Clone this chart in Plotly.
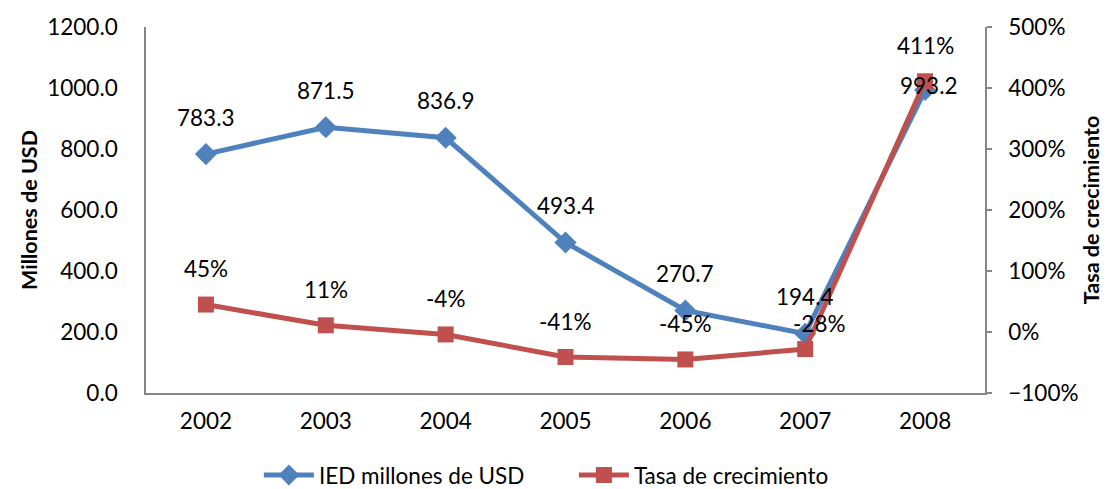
import plotly.graph_objects as go

years = [2002, 2003, 2004, 2005, 2006, 2007, 2008]
year_labels = ["2002", "2003", "2004", "2005", "2006", "2007", "2008"]
ied = [783.3, 871.5, 836.9, 493.4, 270.7, 194.4, 993.2]
growth = [45, 11, -4, -41, -45, -28, 411]
ied_labels = ["783.3", "871.5", "836.9", "493.4", "270.7", "194.4", "993.2"]
growth_labels = ["45%", "11%", "-4%", "-41%", "-45%", "-28%", "411%"]

BLUE = "#4F81BD"
RED = "#C0504D"
AXIS = "#868686"
FONT = "Lato"
FS = 22.5

fig = go.Figure()
fig.add_trace(go.Scatter(
    x=list(years), y=list(ied), name="IED millones de USD", mode="lines+markers",
    line=dict(color=BLUE, width=5),
    marker=dict(symbol="diamond", size=17, color=BLUE),
    xaxis="x", yaxis="y"))
fig.add_trace(go.Scatter(
    x=list(years), y=list(growth), name="Tasa de crecimiento", mode="lines+markers",
    line=dict(color=RED, width=5),
    marker=dict(symbol="square", size=16, color=RED),
    xaxis="x", yaxis="y2"))

for i, (yr, v, t) in enumerate(zip(years, ied, ied_labels)):
    shift = 37 if i < len(years) - 1 else 5
    xs = 0 if i < len(years) - 1 else 4
    fig.add_annotation(x=yr, y=v, xref="x", yref="y", text=t, showarrow=False,
                       yshift=shift, xshift=xs, font=dict(size=FS, color="black", family=FONT))
for i, (yr, v, t) in enumerate(zip(years, growth, growth_labels)):
    shift = 36
    xs = 0
    if yr == 2007:
        shift = 26
        xs = 14
    fig.add_annotation(x=yr, y=v, xref="x", yref="y2", text=t, showarrow=False,
                       yshift=shift, xshift=xs, font=dict(size=FS, color="black", family=FONT))

# the page body has an 8px margin, so the figure is drawn 8px smaller and offset
fig.update_layout(
    width=1103, height=481,
    margin=dict(l=138, r=126, t=19, b=96, autoexpand=False),
    paper_bgcolor="white", plot_bgcolor="white",
    font=dict(family=FONT, size=FS, color="black"),
    showlegend=True,
    legend=dict(orientation="h", x=0.51, xanchor="center", y=-0.225, yanchor="middle",
                font=dict(size=FS), itemwidth=50, entrywidth=250),
    xaxis=dict(type="linear", range=[2001.5, 2008.5], tickmode="array",
               tickvals=years, ticktext=year_labels, automargin=False,
               showline=True, linecolor=AXIS, linewidth=1.5, showgrid=False,
               ticks="outside", ticklen=7, tickcolor="rgba(0,0,0,0)", zeroline=False),
    yaxis=dict(range=[0, 1200], dtick=200, tickformat=".1f", showline=True, automargin=False,
               linecolor=AXIS, linewidth=1.5, showgrid=False,
               ticks="outside", ticklen=22, tickcolor="rgba(0,0,0,0)",
               zeroline=False,
               title=dict(text="<b>Millones de USD</b>", font=dict(size=21.5), standoff=4)),
    yaxis2=dict(range=[-100, 500], dtick=100, ticksuffix="%", overlaying="y", side="right",
                showline=True, linecolor=AXIS, linewidth=1.5, showgrid=False, automargin=False,
                ticks="outside", ticklen=5, tickcolor=AXIS, tickwidth=1.5,
                ticklabelstandoff=12, zeroline=False,
                title=dict(text="<b>Tasa de crecimiento</b>", font=dict(size=21.5), standoff=6)),
)

fig.write_html("out.html")
